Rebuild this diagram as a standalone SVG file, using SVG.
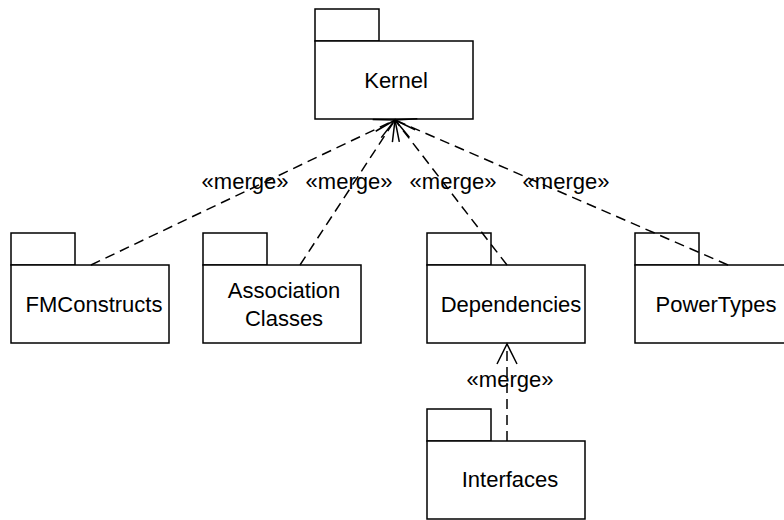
<svg xmlns="http://www.w3.org/2000/svg" width="784" height="520" viewBox="0 0 784 520">
<defs>
<style>
.pkg{fill:#fff;stroke:#000;stroke-width:1.5}
.lbl{font-family:"Liberation Sans",Arial,sans-serif;font-size:22px;fill:#000;text-anchor:middle}
.dep{fill:none;stroke:#000;stroke-width:1.5;stroke-dasharray:10,6}
</style>
<marker id="open" viewBox="-22 -11 24 22" refX="0" refY="0" markerWidth="24" markerHeight="22" markerUnits="userSpaceOnUse" orient="auto">
<path d="M-20,-10 L0,0 L-20,10" fill="none" stroke="#000" stroke-width="1.5"/>
</marker>
</defs>
<rect width="784" height="520" fill="#fff"/>
<g id="Kernel">
<rect class="pkg" x="315" y="9" width="64" height="32"/>
<rect class="pkg" x="315" y="41" width="158" height="78"/>
<text class="lbl" x="396" y="88">Kernel</text>
</g>
<g id="FMConstructs">
<rect class="pkg" x="11" y="233" width="64" height="32"/>
<rect class="pkg" x="11" y="265" width="158" height="78"/>
<text class="lbl" x="94" y="312">FMConstructs</text>
</g>
<g id="AssociationClasses">
<rect class="pkg" x="203" y="233" width="64" height="32"/>
<rect class="pkg" x="203" y="265" width="158" height="78"/>
<text class="lbl" x="284" y="298">Association</text>
<text class="lbl" x="284" y="326">Classes</text>
</g>
<g id="Dependencies">
<rect class="pkg" x="427" y="233" width="64" height="32"/>
<rect class="pkg" x="427" y="265" width="158" height="78"/>
<text class="lbl" x="511" y="312">Dependencies</text>
</g>
<g id="PowerTypes">
<rect class="pkg" x="635" y="233" width="64" height="32"/>
<rect class="pkg" x="635" y="265" width="158" height="78"/>
<text class="lbl" x="716" y="312">PowerTypes</text>
</g>
<g id="Interfaces">
<rect class="pkg" x="427" y="409" width="64" height="32"/>
<rect class="pkg" x="427" y="441" width="158" height="78"/>
<text class="lbl" x="510" y="487">Interfaces</text>
</g>
<g id="connectors">
<line class="dep" x1="91" y1="265" x2="395" y2="120" marker-end="url(#open)"/>
<line class="dep" x1="300" y1="265" x2="395" y2="120" marker-end="url(#open)"/>
<line class="dep" x1="507" y1="265" x2="395" y2="120" marker-end="url(#open)"/>
<line class="dep" x1="728" y1="265" x2="395" y2="120" marker-end="url(#open)"/>
<line class="dep" x1="507" y1="441" x2="507" y2="344" marker-end="url(#open)"/>
<text class="lbl" x="245" y="189">«merge»</text>
<text class="lbl" x="349" y="189">«merge»</text>
<text class="lbl" x="453" y="189">«merge»</text>
<text class="lbl" x="566" y="189">«merge»</text>
<text class="lbl" x="510" y="387">«merge»</text>
</g>
</svg>
